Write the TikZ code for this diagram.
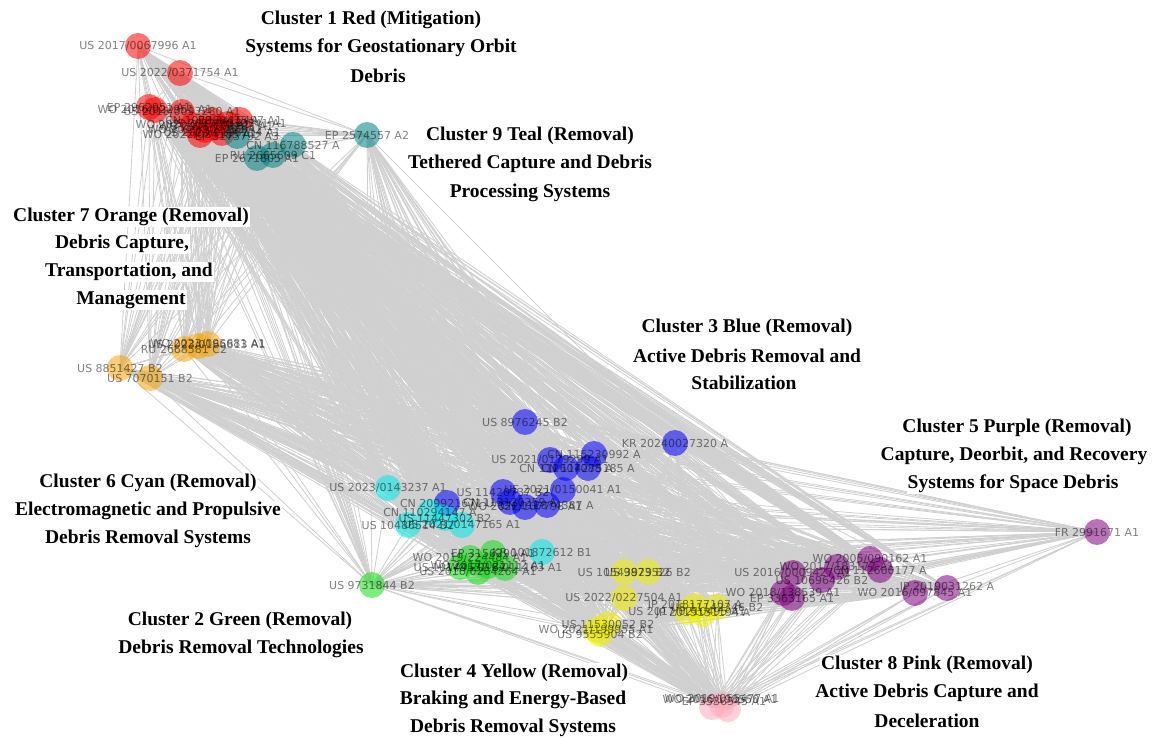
\documentclass[tikz,border=0pt]{standalone}
\usepackage{fontspec}
\setmainfont{Liberation Serif}
\newfontfamily\lblfont{DejaVu Sans}
\pgfdeclarelayer{edges}
\pgfsetlayers{edges,main}

\definecolor{edgegray}{RGB}{208,208,208}
\definecolor{cRed}{RGB}{255,0,0}
\definecolor{cTeal}{RGB}{0,128,128}
\definecolor{cOrange}{RGB}{245,165,10}
\definecolor{cBlue}{RGB}{0,0,255}
\definecolor{cCyan}{RGB}{0,235,235}
\definecolor{cGreen}{RGB}{20,220,20}
\definecolor{cYellow}{RGB}{240,240,0}
\definecolor{cPurple}{RGB}{128,0,128}
\definecolor{cPink}{RGB}{255,170,185}

\tikzset{
  pt/.style={circle, inner sep=0pt, minimum size=26pt, fill=#1, fill opacity=0.55, draw=none},
  lbl/.style={font=\lblfont\fontsize{11}{13}\selectfont, text=black, text opacity=0.5, inner sep=0pt},
  ttl/.style={font=\bfseries\fontsize{19.5}{23}\selectfont, fill=white, inner sep=1pt},
  edge/.style={draw=edgegray, line width=0.85pt}
}

\begin{document}
\begin{tikzpicture}[x=1pt,y=-1pt]
\useasboundingbox (0,0) rectangle (1168,738);

% ---- patent nodes ----
% Cluster 1 (red)
\node[pt=cRed] (n1) at (138,46) {};
\node[pt=cRed] (n2) at (180,73) {};
\node[pt=cRed] (n3) at (149,107) {};
\node[pt=cRed] (n4) at (155,110) {};
\node[pt=cRed] (n5) at (182,112) {};
\node[pt=cRed] (n6) at (193,125) {};
\node[pt=cRed] (n7) at (205,130) {};
\node[pt=cRed] (n8) at (216,127) {};
\node[pt=cRed] (n9) at (228,124) {};
\node[pt=cRed] (n10) at (240,120) {};
\node[pt=cRed] (n11) at (200,135) {};
\node[pt=cRed] (n12) at (222,133) {};
\node[pt=cRed] (n13) at (212,120) {};
% Cluster 9 (teal)
\node[pt=cTeal] (n14) at (237,136) {};
\node[pt=cTeal] (n15) at (293,145) {};
\node[pt=cTeal] (n16) at (273,155) {};
\node[pt=cTeal] (n17) at (257,158) {};
\node[pt=cTeal] (n18) at (367,135) {};
% Cluster 7 (orange)
\node[pt=cOrange] (n19) at (120,368) {};
\node[pt=cOrange] (n20) at (150,378) {};
\node[pt=cOrange] (n21) at (184,349) {};
\node[pt=cOrange] (n22) at (198,346) {};
\node[pt=cOrange] (n23) at (208,344) {};
% Cluster 3 (blue)
\node[pt=cBlue] (n24) at (525,422) {};
\node[pt=cBlue] (n25) at (675,443) {};
\node[pt=cBlue] (n26) at (594,454) {};
\node[pt=cBlue] (n27) at (550,460) {};
\node[pt=cBlue] (n28) at (566,468) {};
\node[pt=cBlue] (n29) at (588,468) {};
\node[pt=cBlue] (n30) at (447,503) {};
\node[pt=cBlue] (n31) at (503,492) {};
\node[pt=cBlue] (n32) at (563,490) {};
\node[pt=cBlue] (n33) at (547,505) {};
\node[pt=cBlue] (n34) at (510,502) {};
\node[pt=cBlue] (n35) at (525,507) {};
% Cluster 6 (cyan)
\node[pt=cCyan] (n36) at (388,488) {};
\node[pt=cCyan] (n37) at (408,525) {};
\node[pt=cCyan] (n38) at (430,512) {};
\node[pt=cCyan] (n39) at (445,518) {};
\node[pt=cCyan] (n40) at (462,525) {};
\node[pt=cCyan] (n41) at (542,552) {};
% Cluster 2 (green)
\node[pt=cGreen] (n42) at (372,585) {};
\node[pt=cGreen] (n43) at (470,558) {};
\node[pt=cGreen] (n44) at (478,572) {};
\node[pt=cGreen] (n45) at (493,553) {};
\node[pt=cGreen] (n46) at (505,568) {};
\node[pt=cGreen] (n47) at (460,567) {};
\node[pt=cGreen] (n48) at (488,566) {};
% Cluster 4 (yellow)
\node[pt=cYellow] (n49) at (624,572) {};
\node[pt=cYellow] (n50) at (648,572) {};
\node[pt=cYellow] (n51) at (624,598) {};
\node[pt=cYellow] (n52) at (608,624) {};
\node[pt=cYellow] (n53) at (596,630) {};
\node[pt=cYellow] (n54) at (600,634) {};
\node[pt=cYellow] (n55) at (687,612) {};
\node[pt=cYellow] (n56) at (703,614) {};
\node[pt=cYellow] (n57) at (717,607) {};
\node[pt=cYellow] (n58) at (695,606) {};
% Cluster 5 (purple)
\node[pt=cPurple] (n59) at (870,559) {};
\node[pt=cPurple] (n60) at (880,570) {};
\node[pt=cPurple] (n61) at (837,567) {};
\node[pt=cPurple] (n62) at (822,580) {};
\node[pt=cPurple] (n63) at (793,573) {};
\node[pt=cPurple] (n64) at (783,593) {};
\node[pt=cPurple] (n65) at (792,598) {};
\node[pt=cPurple] (n66) at (915,593) {};
\node[pt=cPurple] (n67) at (947,588) {};
% Cluster 8 (pink)
\node[pt=cPink] (n68) at (712,707) {};
\node[pt=cPink] (n69) at (728,709) {};
\node[pt=cPink] (n70) at (722,705) {};
% outlier of cluster 5
\node[pt=cPurple] (n71) at (1097,532) {};

% ---- citation edges ----
\begin{pgfonlayer}{edges}
\foreach \i in {1,...,70}{
  \pgfmathtruncatemacro{\jfirst}{\i+1}
  \foreach \j in {\jfirst,...,71}{
    \pgfmathtruncatemacro{\omitE}{((\i<19) && (\j==71)) || ((\i==18) && (\j>58))}
    \ifnum\omitE=0
      \draw[edge] (n\i.center) -- (n\j.center);
    \fi
  }
}
\end{pgfonlayer}

% ---- patent labels ----
\node[lbl] (l1) at (n1) {US 2017/0067996 A1};
\node[lbl] (l2) at (n2) {US 2022/0371754 A1};
\node[lbl] (l3) at (n3) {EP 2962951 A1};
\node[lbl] (l4) at (n4) {WO 2016/022951 A1};
\node[lbl] (l5) at (n5) {US 2018/0093280 A1};
\node[lbl] (l6) at (n6) {WO 2020/036720 A1};
\node[lbl] (l7) at (n7) {WO 2019/102253 A1};
\node[lbl] (l8) at (n8) {WO 2018/158785 A1};
\node[lbl] (l9) at (n9) {US 2019/0010541 A1};
\node[lbl] (l10) at (n10) {EP 3415497 A1};
\node[lbl] (l11) at (n11) {WO 2022/034185 A1};
\node[lbl] (l12) at (n12) {US 2020/0198214 A1};
\node[lbl] (l13) at (n13) {CN 107380475 A};
\node[lbl] (l14) at (n14) {EP 3173792 A3};
\node[lbl] (l15) at (n15) {CN 116788527 A};
\node[lbl] (l16) at (n16) {RU 2665609 C1};
\node[lbl] (l17) at (n17) {EP 2671805 A1};
\node[lbl] (l18) at (n18) {EP 2574557 A2};
\node[lbl] (l19) at (n19) {US 8851427 B2};
\node[lbl] (l20) at (n20) {US 7070151 B2};
\node[lbl] (l21) at (n21) {RU 2668581 C2};
\node[lbl] (l22) at (207,345) {US 2023/0166813 A1};
\node[lbl] (l23) at (n23) {WO 2023/095681 A1};
\node[lbl] (l24) at (n24) {US 8976245 B2};
\node[lbl] (l25) at (n25) {KR 20240027320 A};
\node[lbl] (l26) at (n26) {CN 115230992 A};
\node[lbl] (l27) at (n27) {US 2021/0179299 A1};
\node[lbl] (l28) at (n28) {CN 112607088 A};
\node[lbl] (l29) at (n29) {CN 114275185 A};
\node[lbl] (l30) at (n30) {CN 209921671 U};
\node[lbl] (l31) at (n31) {US 11420737 B2};
\node[lbl] (l32) at (n32) {US 2021/0150041 A1};
\node[lbl] (l33) at (n33) {CN 112874387 A};
\node[lbl] (l34) at (n34) {CN 113120259 A};
\node[lbl] (l35) at (n35) {WO 2022/107798 A1};
\node[lbl] (l36) at (n36) {US 2023/0143237 A1};
\node[lbl] (l37) at (n37) {US 10486514 B2};
\node[lbl] (l38) at (n38) {CN 110294147 A};
\node[lbl] (l39) at (n39) {US 11447302 B2};
\node[lbl] (l40) at (n40) {US 2021/0147165 A1};
\node[lbl] (l41) at (n41) {KR 101872612 B1};
\node[lbl] (l42) at (n42) {US 9731844 B2};
\node[lbl] (l43) at (n43) {WO 2019/224484 A1};
\node[lbl] (l44) at (n44) {US 2016/0264264 A1};
\node[lbl] (l45) at (n45) {EP 3156290 A1};
\node[lbl] (l46) at (n46) {WO 2016/011163 A1};
\node[lbl] (l47) at (n47) {US 10144532 B2};
\node[lbl] (l48) at (n48) {WO 2017/021112 A1};
\node[lbl] (l49) at (n49) {US 10543929 B2};
\node[lbl] (l50) at (n50) {US 9873526 B2};
\node[lbl] (l51) at (n51) {US 2022/0227504 A1};
\node[lbl] (l52) at (n52) {US 11530052 B2};
\node[lbl] (l53) at (n53) {WO 2021/199955 A1};
\node[lbl] (l54) at (n54) {US 9555904 B2};
\node[lbl] (l55) at (n55) {US 2017/0210495 A1};
\node[lbl] (l56) at (n56) {JP 2019131194 A};
\node[lbl] (l57) at (n57) {US 11142346 B2};
\node[lbl] (l58) at (n58) {JP 2018177107 A};
\node[lbl] (l59) at (n59) {WO 2005/090162 A1};
\node[lbl] (l60) at (n60) {CN 112660177 A};
\node[lbl] (l61) at (n61) {WO 2017/183177 A1};
\node[lbl] (l62) at (n62) {US 10696426 B2};
\node[lbl] (l63) at (n63) {US 2016/0009427 A1};
\node[lbl] (l64) at (n64) {WO 2018/138539 A1};
\node[lbl] (l65) at (n65) {EP 3363165 A1};
\node[lbl] (l66) at (n66) {WO 2016/097845 A1};
\node[lbl] (l67) at (n67) {JP 2019031262 A};
\node[lbl] (l68) at (720,700) {WO 2016/198550 A1};
\node[lbl] (l69) at (724,701) {EP 3536545 A1};
\node[lbl] (l70) at (722,699) {WO 2019/055477 A1};
\node[lbl] (l71) at (n71) {FR 2991671 A1};

% ---- cluster titles ----
\node[ttl] (t1a) at (371,20) {Cluster 1 Red (Mitigation)};
\node[ttl] (t1b) at (381,48) {Systems for Geostationary Orbit};
\node[ttl] (t1c) at (378,76) {Debris};

\node[ttl] (t9a) at (530,136) {Cluster 9 Teal (Removal)};
\node[ttl] (t9b) at (530,164) {Tethered Capture and Debris};
\node[ttl] (t9c) at (530,193) {Processing Systems};

\node[ttl] (t7a) at (131,217) {Cluster 7 Orange (Removal)};
\node[ttl] (t7b) at (122,244) {Debris Capture,};
\node[ttl] (t7c) at (129,272) {Transportation, and};
\node[ttl] (t7d) at (131,300) {Management};

\node[ttl] (t3a) at (747,328) {Cluster 3 Blue (Removal)};
\node[ttl] (t3b) at (747,356) {Active Debris Removal and};
\node[ttl] (t3c) at (744,383) {Stabilization};

\node[ttl] (t5a) at (1017,428) {Cluster 5 Purple (Removal)};
\node[ttl] (t5b) at (1014,456) {Capture, Deorbit, and Recovery};
\node[ttl] (t5c) at (1013,484) {Systems for Space Debris};

\node[ttl] (t6a) at (148,483) {Cluster 6 Cyan (Removal)};
\node[ttl] (t6b) at (148,511) {Electromagnetic and Propulsive};
\node[ttl] (t6c) at (148,539) {Debris Removal Systems};

\node[ttl] (t2a) at (240,621) {Cluster 2 Green (Removal)};
\node[ttl] (t2b) at (241,649) {Debris Removal Technologies};

\node[ttl] (t4a) at (514,673) {Cluster 4 Yellow (Removal)};
\node[ttl] (t4b) at (513,700) {Braking and Energy-Based};
\node[ttl] (t4c) at (513,728) {Debris Removal Systems};

\node[ttl] (t8a) at (927,665) {Cluster 8 Pink (Removal)};
\node[ttl] (t8b) at (927,693) {Active Debris Capture and};
\node[ttl] (t8c) at (927,721) {Deceleration};
\end{tikzpicture}
\end{document}
